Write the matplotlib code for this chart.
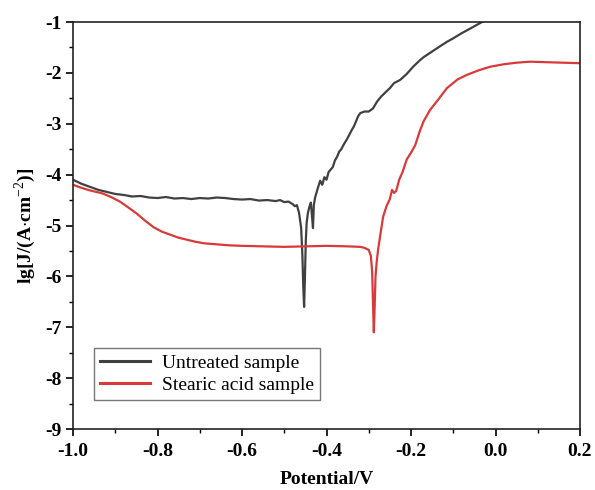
import matplotlib
matplotlib.use("Agg")
import matplotlib.pyplot as plt
from matplotlib.ticker import MultipleLocator

plt.rcParams['font.family'] = ['Liberation Serif', 'DejaVu Serif']
plt.rcParams['mathtext.fontset'] = 'custom'
plt.rcParams['mathtext.rm'] = 'Liberation Serif'
plt.rcParams['mathtext.bf'] = 'Liberation Serif:bold'

# Untreated sample
untreated_x = [-1.0, -0.98, -0.96, -0.94, -0.92, -0.90, -0.88, -0.86, -0.84, -0.82, -0.80, -0.78,
               -0.76, -0.74, -0.72, -0.70, -0.68, -0.66, -0.64, -0.62, -0.60, -0.58, -0.56, -0.54,
               -0.52, -0.51, -0.50, -0.49, -0.48, -0.475, -0.47, -0.465, -0.46, -0.457, -0.455,
               -0.453, -0.451, -0.449, -0.447, -0.444, -0.44, -0.437, -0.434, -0.432, -0.430,
               -0.427, -0.42, -0.415, -0.41, -0.405, -0.40, -0.395, -0.39, -0.385, -0.38, -0.375,
               -0.37, -0.365, -0.36, -0.355, -0.35, -0.345, -0.34, -0.335, -0.33, -0.325, -0.32,
               -0.31, -0.30, -0.29, -0.28, -0.27, -0.26, -0.25, -0.24, -0.226, -0.21, -0.195,
               -0.18, -0.17, -0.15, -0.13, -0.115, -0.10, -0.08, -0.06, -0.045, -0.032, -0.01]
untreated_y = [-4.10, -4.18, -4.24, -4.30, -4.34, -4.38, -4.40, -4.43, -4.42, -4.45, -4.46, -4.44,
               -4.47, -4.46, -4.48, -4.46, -4.47, -4.45, -4.46, -4.48, -4.49, -4.48, -4.51, -4.50,
               -4.52, -4.50, -4.54, -4.53, -4.58, -4.62, -4.60, -4.75, -5.05, -5.6, -6.2,
               -6.6, -6.0, -5.3, -4.95, -4.75, -4.62, -4.55, -4.85, -5.05, -4.6,
               -4.45, -4.25, -4.12, -4.20, -4.05, -4.10, -3.95, -3.90, -3.85, -3.72, -3.65,
               -3.55, -3.50, -3.42, -3.35, -3.28, -3.20, -3.12, -3.05, -2.95, -2.85, -2.79,
               -2.76, -2.76, -2.70, -2.56, -2.46, -2.38, -2.30, -2.20, -2.14, -2.02, -1.88,
               -1.76, -1.69, -1.58, -1.47, -1.39, -1.32, -1.22, -1.13, -1.06, -1.00, -0.90]

# Stearic acid sample
stearic_x = [-1.0, -0.98, -0.96, -0.93, -0.91, -0.889, -0.87, -0.85, -0.83, -0.81, -0.79, -0.77,
             -0.75, -0.73, -0.71, -0.69, -0.66, -0.63, -0.60, -0.55, -0.50, -0.45, -0.40, -0.35,
             -0.32, -0.31, -0.30, -0.295, -0.292, -0.290, -0.288, -0.286, -0.284, -0.281, -0.278,
             -0.272, -0.266, -0.258, -0.25, -0.245, -0.24, -0.235, -0.228, -0.22, -0.21, -0.20,
             -0.19, -0.179, -0.17, -0.155, -0.136, -0.115, -0.09, -0.068, -0.04, -0.013, 0.02,
             0.05, 0.082, 0.12, 0.16, 0.20]
stearic_y = [-4.20, -4.26, -4.31, -4.37, -4.44, -4.53, -4.64, -4.76, -4.90, -5.03, -5.12, -5.18,
             -5.24, -5.28, -5.32, -5.35, -5.37, -5.39, -5.40, -5.41, -5.42, -5.41, -5.40, -5.41,
             -5.42, -5.44, -5.48, -5.60, -5.90, -6.50, -7.10, -6.60, -6.00, -5.70, -5.48,
             -5.15, -4.83, -4.62, -4.48, -4.30, -4.36, -4.32, -4.10, -3.95, -3.70, -3.57,
             -3.42, -3.14, -2.95, -2.73, -2.53, -2.30, -2.13, -2.04, -1.95, -1.88, -1.83,
             -1.80, -1.78, -1.79, -1.80, -1.81]

labels = ['Untreated sample', 'Stearic acid sample']
xticks = [-1.0, -0.8, -0.6, -0.4, -0.2, 0.0, 0.2]
yticks = [-9, -8, -7, -6, -5, -4, -3, -2, -1]

fig = plt.figure(figsize=(5.95, 4.9), dpi=100)
ax = fig.add_axes([73/595, 1-429/490, 507/595, 407/490])

ax.plot(untreated_x, untreated_y, color='#404040', lw=1.6, label=labels[0])
ax.plot(stearic_x, stearic_y, color='#d83a3a', lw=1.6, label=labels[1])

ax.set_xlim(-1.0, 0.2)
ax.set_ylim(-9, -1)
ax.set_xticks(xticks)
ax.set_xticklabels([f'{v:.1f}' for v in xticks])
ax.set_yticks(yticks)
ax.set_yticklabels([f'{v}' for v in yticks])
ax.xaxis.set_minor_locator(MultipleLocator(0.1))
ax.yaxis.set_minor_locator(MultipleLocator(0.5))
ax.tick_params(which='major', direction='out', length=5, width=1.2, labelsize=14)
ax.tick_params(axis='x', which='major', pad=5)
ax.tick_params(axis='y', which='major', pad=3)
ax.tick_params(which='minor', direction='out', length=3, width=1.0)
for lab in ax.get_xticklabels() + ax.get_yticklabels():
    lab.set_fontweight('bold')
for s in ax.spines.values():
    s.set_linewidth(1.2)
    s.set_color('#222222')

ax.set_xlabel('Potential/V', fontsize=14, fontweight='bold', labelpad=8)
ax.set_ylabel(r'lg[J/(A$\cdot$cm$^{-2}$)]', fontsize=14, fontweight='bold', labelpad=5)

leg = ax.legend(loc='lower left', bbox_to_anchor=(0.041, 0.071), fontsize=14, frameon=True,
                fancybox=False, edgecolor='#555555', handlelength=2.6, handletextpad=0.6,
                borderpad=0.3, labelspacing=0.25, borderaxespad=0)
leg.get_frame().set_linewidth(1.0)
for line in leg.get_lines():
    line.set_linewidth(2.2)

fig.savefig('out.png', dpi=100)
